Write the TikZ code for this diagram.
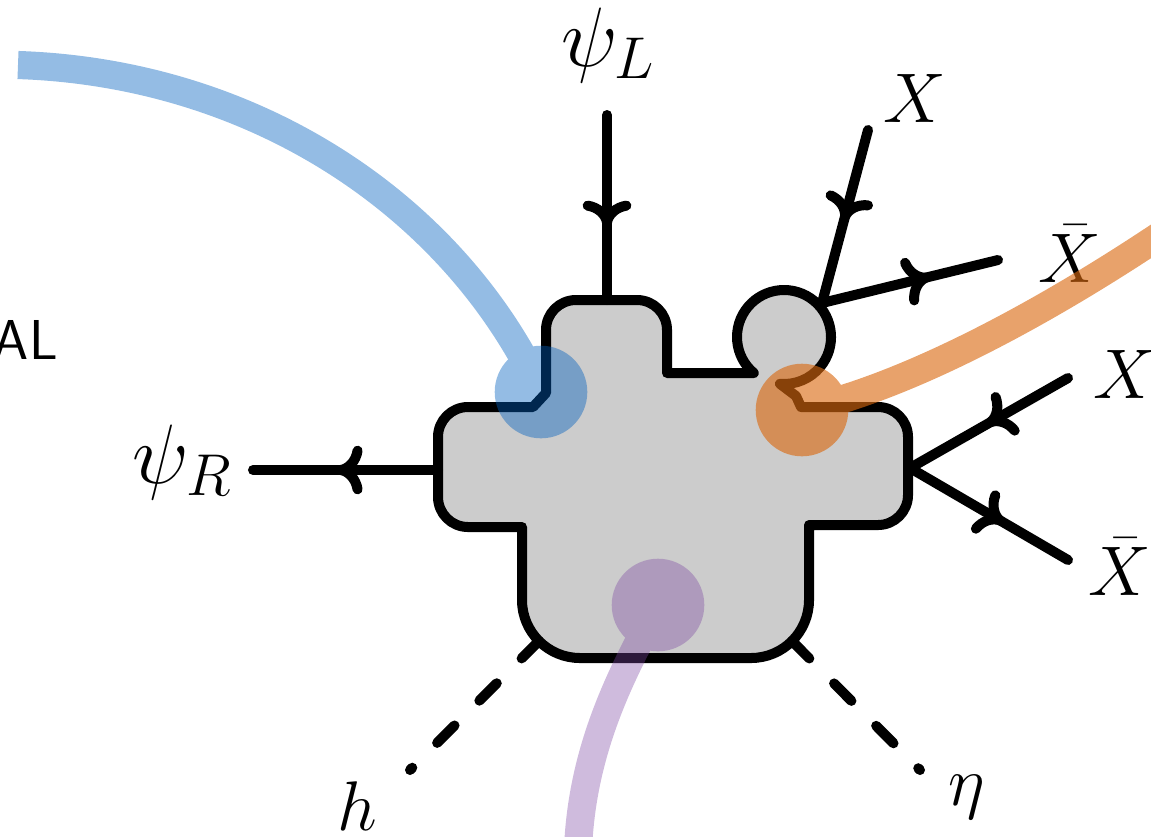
\RequirePackage{fix-cm}
\documentclass[tikz,border=0pt]{standalone}
\usetikzlibrary{decorations.markings}
\definecolor{shapegray}{RGB}{204,204,204}
\definecolor{cblue}{RGB}{0,95,190}
\definecolor{corange}{RGB}{218,105,16}
\definecolor{cpurple}{RGB}{124,70,162}
\begin{document}
\begin{tikzpicture}[x=0.02cm,y=-0.02cm,
  border/.style={line width=5.7pt, line join=round, line cap=round},
  fermion/.style={line width=5.7pt, line cap=round,
    decoration={markings, mark=at position #1 with {%
      \draw[line width=5.7pt, line cap=round, line join=round]
        (-9.5pt,11pt) .. controls (-8.5pt,5pt) and (-4.5pt,0.8pt) .. (0pt,0pt)
        .. controls (-4.5pt,-0.8pt) and (-8.5pt,-5pt) .. (-9.5pt,-11pt);}},
    postaction={decorate}},
  scalar/.style={line width=5.7pt, line cap=round, dash pattern=on 14pt off 20pt},
  lab/.style={font=\fontsize{40}{48}\selectfont, inner sep=0pt, anchor=base},
  biglab/.style={font=\fontsize{48}{56}\selectfont, inner sep=0pt, anchor=base},
  blob/.style={circle, inner sep=0pt, minimum size=52.7pt},
  track/.style={line width=16pt},
]
\clip (0,0) rectangle (1151,836);
\useasboundingbox (0,0) rectangle (1151,836);

% gray blob
\draw[border, fill=shapegray] (546,393) -- (546,330) arc[start angle=180,end angle=270,radius=30]
  -- (637,300) arc[start angle=270,end angle=360,radius=30]
  -- (667,373) -- (753.8,373) arc[start angle=130,end angle=455,radius=47]
  -- (796,396) -- (801,407)
  -- (878,407) arc[start angle=270,end angle=360,radius=30]
  -- (908,495) arc[start angle=0,end angle=90,radius=30]
  -- (809,525) -- (809,600) arc[start angle=0,end angle=90,radius=58]
  -- (580,658) arc[start angle=90,end angle=180,radius=58]
  -- (522,527) -- (468,527) arc[start angle=90,end angle=180,radius=30]
  -- (438,437) arc[start angle=180,end angle=270,radius=30]
  -- (533,407) -- cycle;

% coordinates
\coordinate (psiLend) at (607,115);
\coordinate (psiLjoin) at (607,300);
\coordinate (psiRjoin) at (438,470);
\coordinate (psiRend) at (253,470);
\coordinate (Xtopend) at (868,130);
\coordinate (bumpjoin) at (822,303);
\coordinate (Xbartopend) at (998,260);
\coordinate (Xrend) at (1068,378);
\coordinate (wingjoin) at (910,468);
\coordinate (Xbarrend) at (1068,560);
\coordinate (hjoin) at (539,641);
\coordinate (hend) at (410,770);
\coordinate (etajoin) at (792,641);
\coordinate (etaend) at (920,770);

% legs
\draw[fermion=0.58] (psiLend) -- (psiLjoin);
\draw[fermion=0.525] (psiRjoin) -- (psiRend);
\draw[fermion=0.5] (Xtopend) -- (bumpjoin);
\draw[fermion=0.59] (bumpjoin) -- (Xbartopend);
\draw[fermion=0.49] (Xrend) -- (wingjoin);
\draw[fermion=0.57] (wingjoin) -- (Xbarrend);
\draw[scalar] (hjoin) -- (hend);
\draw[scalar] (etajoin) -- (etaend);

% labels
\node[biglab] (psiL) at (608,66) {$\psi_L$};
\node[biglab] (psiR) at (182,483) {$\psi_R$};
\node[lab] (X1) at (915,122) {$X$};
\node[lab] (Xb1) at (1070,282) {$\bar X$};
\node[lab] (X2) at (1125,398) {$X$};
\node[lab] (Xb2) at (1120,595) {$\bar X$};
\node[lab] (h) at (357,830) {$h$};
\node[lab] (eta) at (967,805) {$\eta$};
\node[font=\sffamily\fontsize{32}{38}\selectfont, inner sep=0pt, anchor=base east] (al) at (58,359) {AL};

% coloured tracks
\coordinate (bstart) at (18,65);
\coordinate (oend) at (1190,215);
\coordinate (pend) at (578,850);
\begin{scope}[transparency group, opacity=0.42]
  \node[blob, fill=cblue] (bc) at (541,392) {};
  \draw[track, cblue] (bstart) .. controls (258,73) and (455,208) .. (bc.center);
\end{scope}
\begin{scope}[transparency group, opacity=0.62]
  \node[blob, fill=corange] (oc) at (802,410) {};
  \draw[track, corange] (oc.center) .. controls (912,386) and (1060,305) .. (oend);
\end{scope}
\begin{scope}[transparency group, opacity=0.37]
  \node[blob, fill=cpurple] (pc) at (658,605) {};
  \draw[track, cpurple] (pc.center) .. controls (630,660) and (582,740) .. (pend);
\end{scope}
\end{tikzpicture}
\end{document}
